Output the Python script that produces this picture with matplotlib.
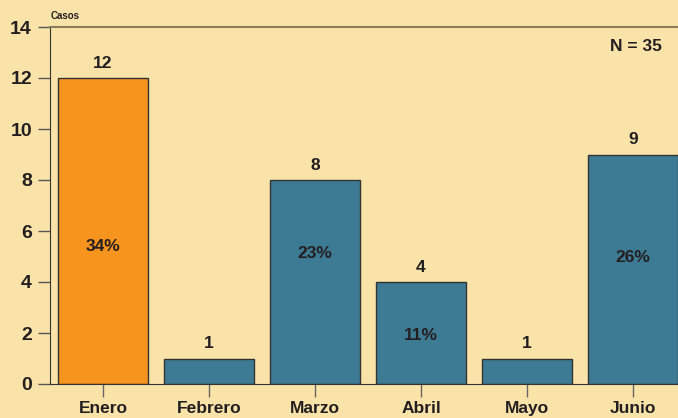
import matplotlib
matplotlib.use("Agg")
import matplotlib.pyplot as plt

plt.rcParams["font.family"] = ["Liberation Sans", "DejaVu Sans"]
plt.rcParams["font.weight"] = "bold"

months = ["Enero", "Febrero", "Marzo", "Abril", "Mayo", "Junio"]
cases = [12, 1, 8, 4, 1, 9]
pct_labels = ["34%", "", "23%", "11%", "", "26%"]
pct_label_y = [5.4, 0, 5.1, 1.9, 0, 4.95]
total_n = 35

bg = "#f9e3a9"
orange = "#f7941d"
teal = "#3d7a94"
ink = "#231f20"

fig = plt.figure(figsize=(6.78, 4.18), dpi=100, facecolor=bg)
ax = fig.add_axes([50 / 678, 34 / 418, 1 - 50 / 678, 357 / 418])
ax.set_facecolor(bg)

colors = [orange] + [teal] * (len(months) - 1)
x = range(len(months))
bars = ax.bar(x, cases, width=0.85, color=colors, edgecolor="#333333", linewidth=1)

for i, (b, v) in enumerate(zip(bars, cases)):
    ax.text(b.get_x() + b.get_width() / 2, v + 0.28, str(v), ha="center", va="bottom",
            fontsize=12.5, fontweight="bold", color=ink)
    if pct_labels[i]:
        ax.text(b.get_x() + b.get_width() / 2, pct_label_y[i], pct_labels[i], ha="center",
                va="center", fontsize=12.5, fontweight="bold", color=ink)

ax.set_xlim(-0.5, 5.425)
ax.set_ylim(0, 14)
ax.set_yticks(range(0, 15, 2))
ax.set_xticks(list(x))
ax.set_xticklabels(months)

ax.tick_params(axis="y", direction="out", length=9, width=1, color="#555555",
               labelsize=14, labelcolor=ink, pad=4)
ax.tick_params(axis="x", direction="out", length=9, width=1, color="#666666",
               labelsize=12.5, labelcolor=ink, pad=3)
for lab in ax.get_xticklabels() + ax.get_yticklabels():
    lab.set_fontweight("bold")

ax.spines["right"].set_visible(False)
ax.spines["left"].set_color("#333333")
ax.spines["bottom"].set_color("#333333")
ax.spines["top"].set_color("#8c7b5b")
ax.spines["top"].set_linewidth(1.5)

fig.text(51 / 678, 1 - 16 / 418, "Casos", fontsize=7, fontweight="bold", color=ink,
         va="center", ha="left")
ax.text(0.975, 0.965, f"N = {total_n}", transform=ax.transAxes, ha="right", va="top",
        fontsize=12.5, fontweight="bold", color=ink)

fig.savefig("out.png", dpi=100, facecolor=bg)
